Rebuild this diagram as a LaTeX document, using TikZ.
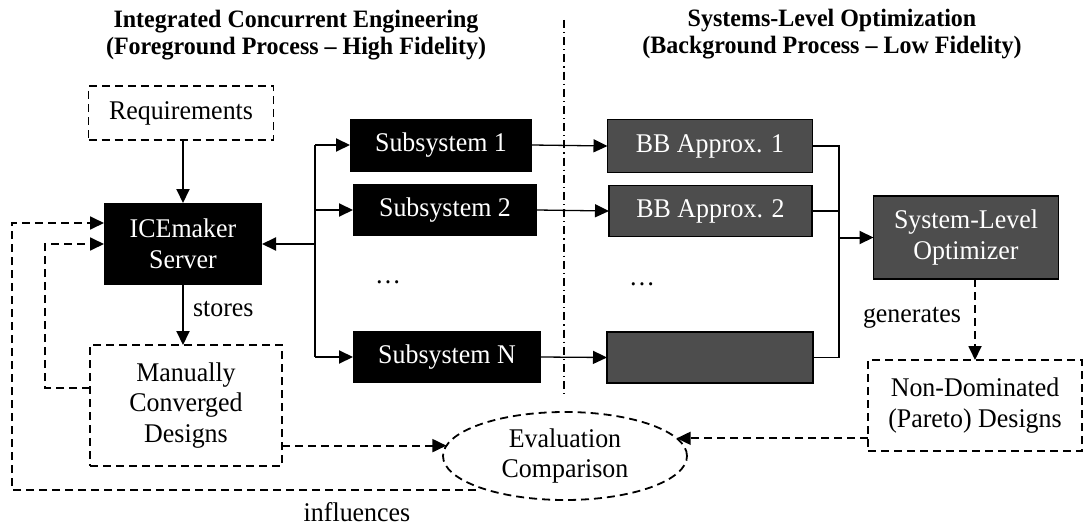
\documentclass[tikz,border=0pt]{standalone}
\usepackage{fontspec}
\setmainfont{Liberation Serif}[FakeStretch=0.96]
\usetikzlibrary{arrows.meta,shapes.geometric,calc}
\definecolor{boxgray}{RGB}{77,77,77}
\begin{document}
\begin{tikzpicture}[x=1pt,y=-1pt,
  every node/.style={font=\fontsize{27}{30.5}\selectfont, inner sep=0pt, outer sep=0pt, align=center},
  title/.style={font=\bfseries\fontsize{25}{26.5}\selectfont},
  blackbox/.style={fill=black, text=white},
  graybox/.style={fill=boxgray, draw=black, line width=1.6pt, text=white},
  dashbox/.style={draw=black, line width=1.8pt, dash pattern=on 8pt off 5pt},
  arr/.style={-{Triangle[length=14pt,width=13pt]}, line width=2pt},
  tarr/.style={-{Triangle[length=14pt,width=13pt]}, line width=1.3pt},
  darr/.style={-{Triangle[length=14pt,width=13pt]}, line width=1.8pt, dash pattern=on 8pt off 5pt},
  dline/.style={line width=1.8pt, dash pattern=on 8pt off 5pt}]
\useasboundingbox (0,0) rectangle (1084,527);

% column headings
\node[title] (ltitle) at (296,35) {Integrated Concurrent Engineering\\(Foreground Process – High Fidelity)};
\node[title] (rtitle) at (832,34) {Systems-Level Optimization\\(Background Process – Low Fidelity)};

% divider between the two processes
\coordinate (divtop) at (564,20);
\coordinate (divbot) at (564,395);
\draw[line width=1.4pt, dash pattern=on 8pt off 4pt on 1.2pt off 4pt] (divtop) -- (divbot);

% foreground process
\node[dashbox, minimum width=185pt, minimum height=54pt] (req) at (181,113) {Requirements};
\node[blackbox, minimum width=158pt, minimum height=82pt] (ice) at (183,244) {ICEmaker\\Server};
\node[dashbox, minimum width=192pt, minimum height=121pt] (man) at (186,405.5) {Manually\\Converged\\Designs};
\node[blackbox, minimum width=182pt, minimum height=53pt] (sub1) at (441,145) {Subsystem 1};
\node[blackbox, minimum width=184pt, minimum height=52pt] (sub2) at (445,210) {Subsystem 2};
\node[blackbox, minimum width=188pt, minimum height=52pt] (subN) at (447,357) {Subsystem N};
\node (dotsL) at (388,282) {…};

% background process
\node[graybox, minimum width=205pt, minimum height=53pt] (bb1) at (710,146) {BB Approx. 1};
\node[graybox, minimum width=203pt, minimum height=51pt] (bb2) at (710.5,211) {BB Approx. 2};
\node[graybox, minimum width=206pt, minimum height=51pt] (bbN) at (710,357.5) {};
\node (dotsR) at (642,284) {…};
\node[graybox, minimum width=185pt, minimum height=83pt] (opt) at (966,237.5) {System-Level\\Optimizer};
\node[dashbox, minimum width=214pt, minimum height=91pt] (nd) at (975,405.5) {Non-Dominated\\(Pareto) Designs};

% evaluation
\node[ellipse, dline, draw=black, minimum width=244pt, minimum height=88pt] (eval) at (565,456) {Evaluation\\Comparison};

% connector labels
\node[anchor=base west] (stores) at (193,316) {stores};
\node[anchor=base west] (gen) at (863,322) {generates};
\node[anchor=base] (infl) at (357,521) {influences};

% requirements and storage
\draw[arr] (ice.north |- req.south) -- (ice.north);
\draw[arr] (ice.south) -- (ice.south |- man.north);

% bus between server and subsystems
\coordinate (bus1) at (315,0 |- sub1.west);
\coordinate (busN) at (315,0 |- subN.west);
\draw[line width=2pt] (bus1) -- (busN);
\draw[arr] (bus1) -- (sub1.west);
\draw[arr] (bus1 |- sub2.west) -- (sub2.west);
\draw[arr] (busN) -- (subN.west);
\draw[arr] (bus1 |- ice.east) -- (ice.east);

% subsystems to black-box approximations
\draw[tarr] (sub1.east) -- (bb1.west);
\draw[tarr] (sub2.east) -- (bb2.west);
\draw[tarr] (subN.east) -- (bbN.west);

% approximations to optimizer
\coordinate (col1) at (839,0 |- bb1.east);
\coordinate (colN) at (839,0 |- bbN.east);
\draw[line width=1.6pt] (bb1.east) -- (col1) -- (colN) -- (bbN.east);
\draw[line width=1.6pt] (bb2.east) -- (col1 |- bb2.east);
\draw[arr] (col1 |- opt.west) -- (opt.west);

% optimizer output
\draw[darr] (nd.north |- opt.south) -- (nd.north);

% comparison inputs
\draw[darr] (man.east |- eval.175) -- (eval.175);
\draw[darr] (nd.west |- eval.9) -- (eval.9);

% feedback to the server
\coordinate (innerL) at (45,388);
\coordinate (outerL) at (12,490);
\coordinate (inflStart) at (476,490);
\draw[darr] (man.west |- innerL) -- (innerL) -- (innerL |- ice.west) -- (ice.west);
\draw[darr] (inflStart) -- (outerL) -- (outerL |- 0,223) -- (ice.west |- 0,223);
\end{tikzpicture}
\end{document}
